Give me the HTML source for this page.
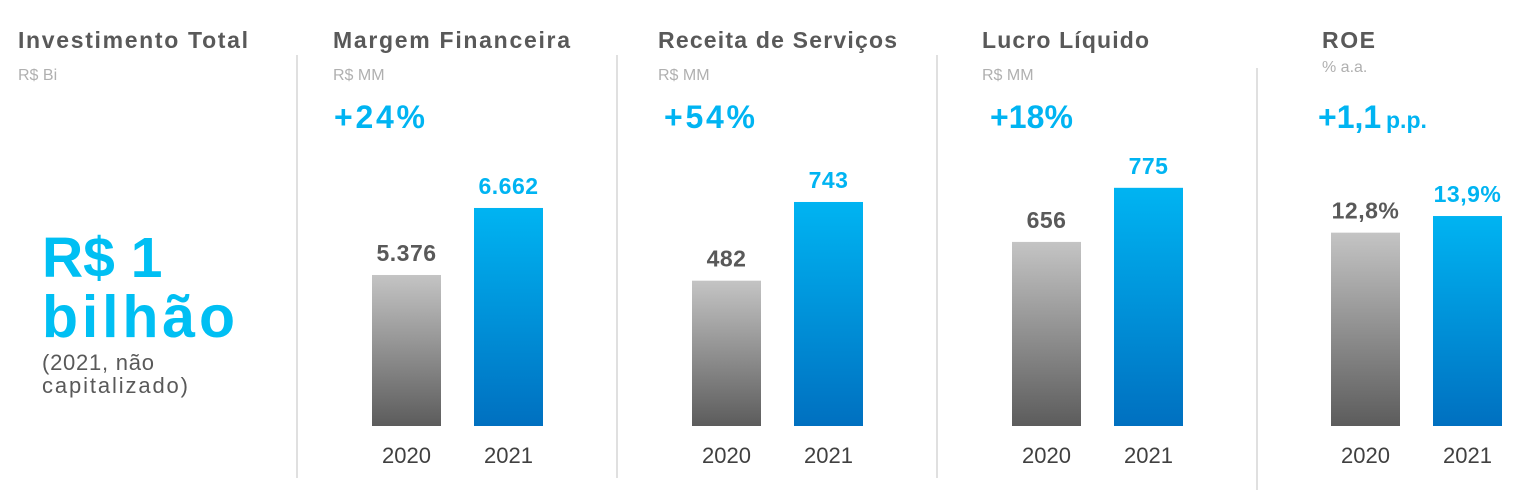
<!DOCTYPE html>
<html><head><meta charset="utf-8"><style>
body{margin:0;width:1533px;height:504px;background:#fff;overflow:hidden;font-family:"Liberation Sans",sans-serif;}
svg{display:block}
</style></head><body>
<svg id="c" width="1533" height="504">
<defs>
<linearGradient id="gGrey" x1="0" y1="0" x2="0" y2="1"><stop offset="0" stop-color="#c4c4c4"/><stop offset="1" stop-color="#5c5c5c"/></linearGradient>
<linearGradient id="gBlue" x1="0" y1="0" x2="0" y2="1"><stop offset="0" stop-color="#00b4f2"/><stop offset="1" stop-color="#0070c0"/></linearGradient>
</defs>
<g>
<text x="18" y="48" font-size="23" font-weight="bold" fill="#595959" textLength="230" lengthAdjust="spacing">Investimento Total</text>
<text x="18" y="80" font-size="16" fill="#b0b0b0">R$ Bi</text>
<text x="42" y="277" font-size="57" font-weight="bold" fill="#00bff3">R$ 1</text>
<text x="42" y="337" font-size="59" font-weight="bold" fill="#00bff3" textLength="193" lengthAdjust="spacing">bilhão</text>
<text x="42" y="370" font-size="22" fill="#595959" textLength="112" lengthAdjust="spacing">(2021, não</text>
<text x="42" y="393" font-size="22" fill="#595959" textLength="146" lengthAdjust="spacing">capitalizado)</text>
</g>
<g id="panels"></g>
</svg>
<script>
const titles=["Margem Financeira","Receita de Serviços","Lucro Líquido","ROE"];
const units=["R$ MM","R$  MM","R$ MM","% a.a."];
const growth=["+24%","+54%","+18%","+1,1"];
const growthSuffix=["","","","p.p."];
const categories=["2020","2021"];
const values2020=[5376,482,656,12.8];
const values2021=[6662,743,775,13.9];
const valueLabels2020=["5.376","482","656","12,8%"];
const valueLabels2021=["6.662","743","775","13,9%"];
const domainMin=[2478,0,251,0];
const domainMax=[8235,995,911,19.86];

const NS="http://www.w3.org/2000/svg";
const g=document.getElementById('panels');
const panelX=[333,658,982,1322];
const titleW=[237,239,167,53];
const barX=[372,692,1012,1331];
const growthX=[334,664,990,1318];
const growthW=[91,91,83,0];
const divX=[297,617,937,1257];
const divTop=[55,55,55,68];
const divBot=[478,478,478,490];
const unitY=[80,80,80,72];
const BASE=426,H=300,BW=69,GAP=102;
function el(tag,attrs,txt){const e=document.createElementNS(NS,tag);for(const k in attrs)e.setAttribute(k,attrs[k]);if(txt!==undefined)e.textContent=txt;g.appendChild(e);return e;}
function yScale(i,v){return BASE-(v-domainMin[i])/(domainMax[i]-domainMin[i])*H;}
for(let i=0;i<titles.length;i++){
  let d=el('line',{x1:divX[i],x2:divX[i],y1:divTop[i],y2:divBot[i],stroke:'#d0d0d0','stroke-width':1.3});
  
  
  let t=el('text',{x:panelX[i],y:48,'font-size':23,'font-weight':'bold',fill:'#595959',textLength:titleW[i],lengthAdjust:'spacing'},titles[i]);
  
  
  let u=el('text',{x:panelX[i],y:unitY[i],'font-size':16,fill:'#b0b0b0'},units[i]);
  
  
  const ga={x:growthX[i],y:128,'font-size':32,'font-weight':'bold',fill:'#00b4f2'};
  if(growthW[i]){ga.textLength=growthW[i];ga.lengthAdjust='spacing';}
  let gr=el('text',ga,growth[i]);
  
  
  if(growthSuffix[i]){
    let gs=el('text',{x:growthX[i]+68,y:128,'font-size':23,'font-weight':'bold',fill:'#00b4f2'},growthSuffix[i]);
    
    
  }
  const vals=[values2020[i],values2021[i]];
  const labs=[valueLabels2020[i],valueLabels2021[i]];
  for(let j=0;j<2;j++){
    const x=barX[i]+j*GAP, y=yScale(i,vals[j]);
    let b=el('rect',{x:x,y:y,width:BW,height:BASE-y,fill:j?'url(#gBlue)':'url(#gGrey)'});
    
    
    let vl=el('text',{x:x+BW/2,y:y-14,'font-size':23,'font-weight':'bold','text-anchor':'middle','letter-spacing':'0.5',fill:j?'#00b4f2':'#595959'},labs[j]);
    
    
    let yl=el('text',{x:x+BW/2,y:463,'font-size':22,'text-anchor':'middle',fill:'#404040'},categories[j]);
    
    
  }
}
</script>
</body></html>
